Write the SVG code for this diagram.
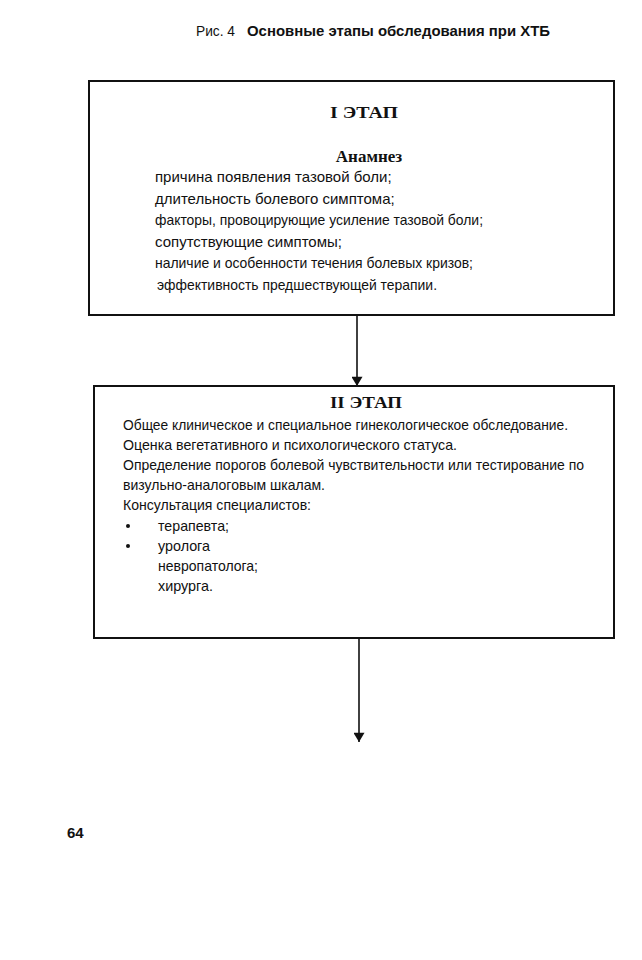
<svg xmlns="http://www.w3.org/2000/svg" width="642" height="960" viewBox="0 0 642 960">
<style>
.box{fill:#fff;stroke:#111;stroke-width:2}
.t{font-family:"Liberation Sans",Arial,sans-serif;font-size:15px;fill:#111}
.h{font-family:"Liberation Serif","Times New Roman",serif;font-size:17px;font-weight:bold;fill:#111}
.b{font-weight:bold}
.conn{stroke:#111;stroke-width:1.6;fill:none}
</style>
<defs>
<marker id="ah" viewBox="0 0 10 12" refX="10" refY="6" markerWidth="11" markerHeight="11" markerUnits="userSpaceOnUse" orient="auto">
<path d="M0,0 L10,6 L0,12 z" fill="#111"/>
</marker>
</defs>
<rect width="642" height="960" fill="#fff"/>
<text class="t" x="196" y="36" font-size="14" textLength="39" lengthAdjust="spacingAndGlyphs">Рис. 4</text>
<text class="t b" x="247" y="36" font-size="15" textLength="303" lengthAdjust="spacingAndGlyphs">Основные этапы обследования при ХТБ</text>
<g id="connectors">
<line class="conn" x1="357" y1="315" x2="357" y2="386" marker-end="url(#ah)"/>
<line class="conn" x1="359" y1="638" x2="359" y2="742" marker-end="url(#ah)"/>
</g>
<g id="stage1">
<rect class="box" x="89" y="81" width="525" height="234"/>
<text class="h" x="330" y="118" font-size="18" textLength="68" lengthAdjust="spacingAndGlyphs">I ЭТАП</text>
<text class="h" x="369" y="162" font-size="19" text-anchor="middle">Анамнез</text>
<text class="t" x="155" y="182">причина появления тазовой боли;</text>
<text class="t" x="155" y="204">длительность болевого симптома;</text>
<text class="t" x="155" y="225" textLength="328" lengthAdjust="spacingAndGlyphs">факторы, провоцирующие усиление тазовой боли;</text>
<text class="t" x="155" y="247">сопутствующие симптомы;</text>
<text class="t" x="155" y="268" textLength="318" lengthAdjust="spacingAndGlyphs">наличие и особенности течения болевых кризов;</text>
<text class="t" x="157" y="290" textLength="280" lengthAdjust="spacingAndGlyphs">эффективность предшествующей терапии.</text>
</g>
<g id="stage2">
<rect class="box" x="94" y="386" width="520" height="252"/>
<text class="h" x="330" y="408" font-size="17" textLength="72" lengthAdjust="spacingAndGlyphs">II ЭТАП</text>
<text class="t" x="123" y="430" textLength="445" lengthAdjust="spacingAndGlyphs">Общее клиническое и специальное гинекологическое обследование.</text>
<text class="t" x="123" y="450" textLength="334" lengthAdjust="spacingAndGlyphs">Оценка вегетативного и психологического статуса.</text>
<text class="t" x="123" y="470" textLength="461" lengthAdjust="spacingAndGlyphs">Определение порогов болевой чувствительности или тестирование по</text>
<text class="t" x="123" y="490" textLength="202" lengthAdjust="spacingAndGlyphs">визульно-аналоговым шкалам.</text>
<text class="t" x="123" y="510" textLength="188" lengthAdjust="spacingAndGlyphs">Консультация специалистов:</text>
<circle cx="128" cy="526" r="2" fill="#111"/>
<text class="t" x="158" y="531" textLength="71" lengthAdjust="spacingAndGlyphs">терапевта;</text>
<circle cx="128" cy="546" r="2" fill="#111"/>
<text class="t" x="158" y="551" textLength="52" lengthAdjust="spacingAndGlyphs">уролога</text>
<text class="t" x="158" y="571" textLength="100" lengthAdjust="spacingAndGlyphs">невропатолога;</text>
<text class="t" x="158" y="591" textLength="55" lengthAdjust="spacingAndGlyphs">хирурга.</text>
</g>
<text class="t b" x="67" y="838" font-size="17">64</text>
</svg>
